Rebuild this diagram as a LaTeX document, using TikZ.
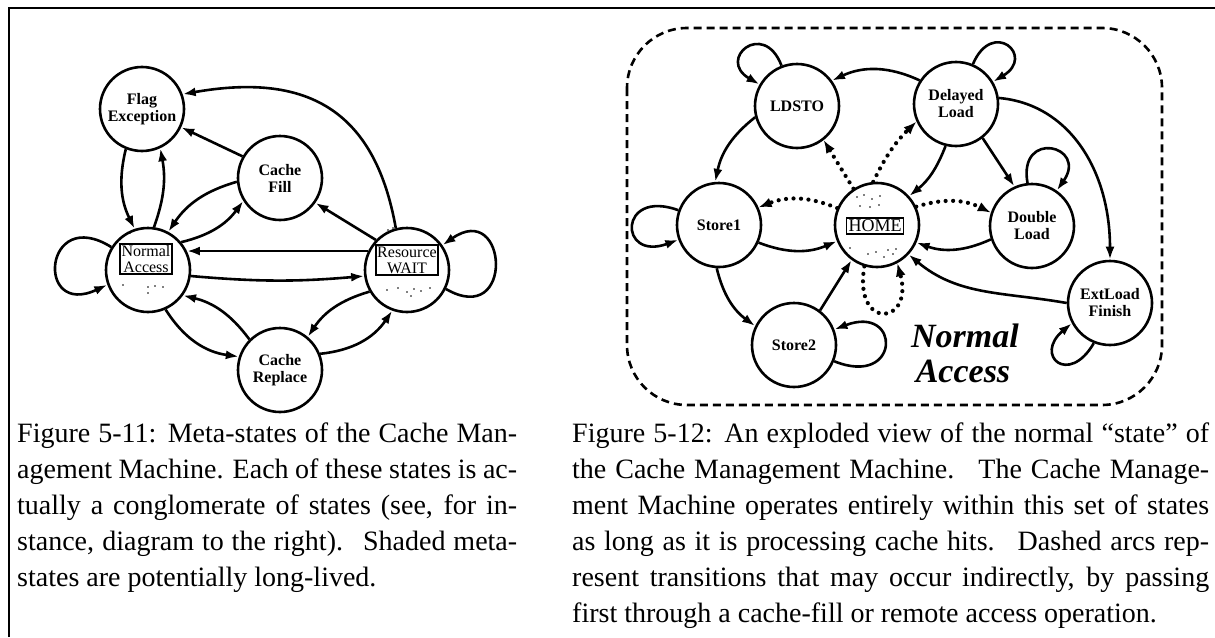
\documentclass[tikz,border=0pt]{standalone}
\usepackage{fontspec}
\setmainfont{Liberation Serif}
\usetikzlibrary{arrows.meta}
\begin{document}
\begin{tikzpicture}[x=1pt,y=1pt,
  st/.style={circle, draw, line width=2.6pt, minimum size=84pt, inner sep=0pt, align=center,
             font=\fontsize{16}{17}\selectfont\bfseries},
  bx/.style={draw, line width=1.6pt, inner sep=1.5pt, align=center, font=\fontsize{16}{16}\selectfont},
  hb/.style={draw, line width=1.8pt, inner sep=2pt, font=\fontsize{18}{18}\selectfont},
  tr/.style={line width=2.6pt, -{Latex[length=13pt,width=9pt]}},
  dt/.style={line width=4.2pt, dash pattern=on 0pt off 7.5pt, line cap=round, -{Latex[length=13pt,width=10pt]}},
  captext/.style={anchor=base west, inner sep=0pt, font=\fontsize{28}{36}\selectfont},
  big/.style={anchor=base, inner sep=0pt, font=\fontsize{34}{36}\selectfont\bfseries\itshape},
  speck/.style={fill=black}
]
\useasboundingbox (0,0) rectangle (1215,-637);
% frame
\draw[line width=1.5pt] (9,-637) -- (9,-8) -- (1215,-8);

% ---------------- left diagram ----------------
\node[st] (flag) at (142,-109) {Flag\\Exception};
\node[st] (fill) at (280,-178) {Cache\\Fill};
\node[st] (norm) at (148,-270) {};
\node[st] (res) at (407,-270) {};
\node[st] (repl) at (280,-370) {Cache\\Replace};
\node[bx] (normt) at (146,-259) {Normal\\Access};
\node[bx] (rest) at (407,-260) {Resource\\WAIT};
\foreach \p in {(130,-233),(123,-285),(148,-287),(155,-286),(163,-287),(148,-293),
                (388,-230),(393,-228),(387,-290),(398,-288),(407,-292),(414,-289),(421,-291),(430,-288),(411,-296)}
  \fill[speck] \p circle (0.8pt);

\draw[tr] (flag.-112) to[bend right=20] (norm.108);
\draw[tr] (norm.82) to[bend right=15] (flag.-65);
\draw[tr] (fill.150) -- (flag.-25);
\draw[tr] (res.105) to[out=100,in=10,looseness=1.25] (flag.20);
\draw[tr] (fill.185) to[bend right=20] (norm.62);
\draw[tr] (norm.40) to[bend right=20] (fill.212);
\draw[tr] (res.136) -- (fill.-35);
\draw[tr] (res.154) -- (norm.26);
\draw[tr] (norm.-8) to[bend right=5] (res.188);
\draw[tr] (repl.135) to[bend right=20] (norm.-36);
\draw[tr] (norm.-66) to[bend right=25] (repl.162);
\draw[tr] (repl.22) to[bend right=25] (res.-110);
\draw[tr] (res.-150) to[bend right=20] (repl.50);
\draw[tr] (norm.148) .. controls +(148:80) and +(205:80) .. (norm.200);
\draw[tr] (res.-26) .. controls +(-30:80) and +(35:80) .. (res.35);

% ---------------- right diagram ----------------
\draw[line width=2.6pt, dash pattern=on 8pt off 5pt, rounded corners=60pt] (627,-28) rectangle (1162,-405);
\node[st] (ldsto) at (797,-106) {LDSTO};
\node[st] (delay) at (956,-104) {Delayed\\Load};
\node[st] (store1) at (719,-225) {Store1};
\node[st] (home) at (877,-225) {};
\node[hb] (homet) at (875,-226) {HOME};
\node[st] (dbl) at (1032,-226) {Double\\Load};
\node[st] (ext) at (1110,-303) {ExtLoad\\Finish};
\node[st] (store2) at (794,-345) {Store2};
\foreach \p in {(857,-197),(864,-195),(872,-199),(880,-196),(860,-206),(870,-207),(879,-205),
                (850,-248),(868,-254),(876,-252),(888,-250),(893,-254),(896,-249),(884,-257)}
  \fill[speck] \p circle (0.8pt);

\draw[tr] (delay.147) to[bend right=25] (ldsto.36);
\draw[tr] (ldsto.-165) to[bend right=20] (store1.95);
\draw[dt] (home.123) -- (ldsto.-52);
\draw[dt] (home.95) to[bend left=10] (delay.-156);
\draw[tr] (delay.-104) to[bend left=15] (home.42);
\draw[tr] (delay.-52) -- (dbl.114);
\draw[tr] (delay.8) .. controls +(-5:70) and +(90:90) .. (ext.90);
\draw[dt] (home.157) to[bend right=22] (store1.24);
\draw[dt] (home.25) to[bend left=22] (dbl.162);
\draw[tr] (store1.-24) to[bend right=22] (home.-158);
\draw[tr] (dbl.-162) to[bend left=22] (home.-24);
\draw[tr] (ext.180) to[out=170,in=-40] (home.-43);
\draw[tr] (store1.-93) to[bend right=20] (store2.154);
\draw[tr] (store2.53) -- (home.-126);
% self loops
\draw[tr] (store1.160) .. controls +(160:64) and +(200:64) .. (store1.200);
\draw[tr] (store2.-22) .. controls +(-22:72) and +(21:72) .. (store2.21);
\draw[dt] (home.-107) .. controls +(-100:65) and +(-75:65) .. (home.-62);
\draw[tr] (ldsto.111) .. controls +(111:50) and +(150:50) .. (ldsto.150);
\draw[tr] (delay.67) .. controls +(67:50) and +(31:50) .. (delay.31);
\draw[tr] (dbl.96) .. controls +(100:55) and +(55:55) .. (dbl.55);
\draw[tr] (ext.-112) .. controls +(-120:50) and +(220:50) .. (ext.208);

\node[big] (na1) at (965,-347) {Normal};
\node[big] (na2) at (963,-382) {Access};

% ---------------- captions ----------------
\node[captext] (l1) at (17,-442) {\makebox[500pt][s]{Figure 5-11: Meta-states of the Cache Man-}};
\node[captext] (l2) at (17,-478) {\makebox[500pt][s]{agement Machine. Each of these states is ac-}};
\node[captext] (l3) at (17,-514) {\makebox[500pt][s]{tually a conglomerate of states (see, for in-}};
\node[captext] (l4) at (17,-550) {\makebox[500pt][s]{stance, diagram to the right). \ Shaded meta-}};
\node[captext] (l5) at (17,-586) {states are potentially long-lived.};

\node[captext] (r1) at (572,-442) {\makebox[637pt][s]{Figure 5-12: An exploded view of the normal “state” of}};
\node[captext] (r2) at (572,-478) {\makebox[637pt][s]{the Cache Management Machine. \ The Cache Manage-}};
\node[captext] (r3) at (572,-514) {\makebox[637pt][s]{ment Machine operates entirely within this set of states}};
\node[captext] (r4) at (572,-550) {\makebox[637pt][s]{as long as it is processing cache hits. \ Dashed arcs rep-}};
\node[captext] (r5) at (572,-586) {\makebox[637pt][s]{resent transitions that may occur indirectly, by passing}};
\node[captext] (r6) at (572,-622) {first through a cache-fill or remote access operation.};
\end{tikzpicture}
\end{document}
